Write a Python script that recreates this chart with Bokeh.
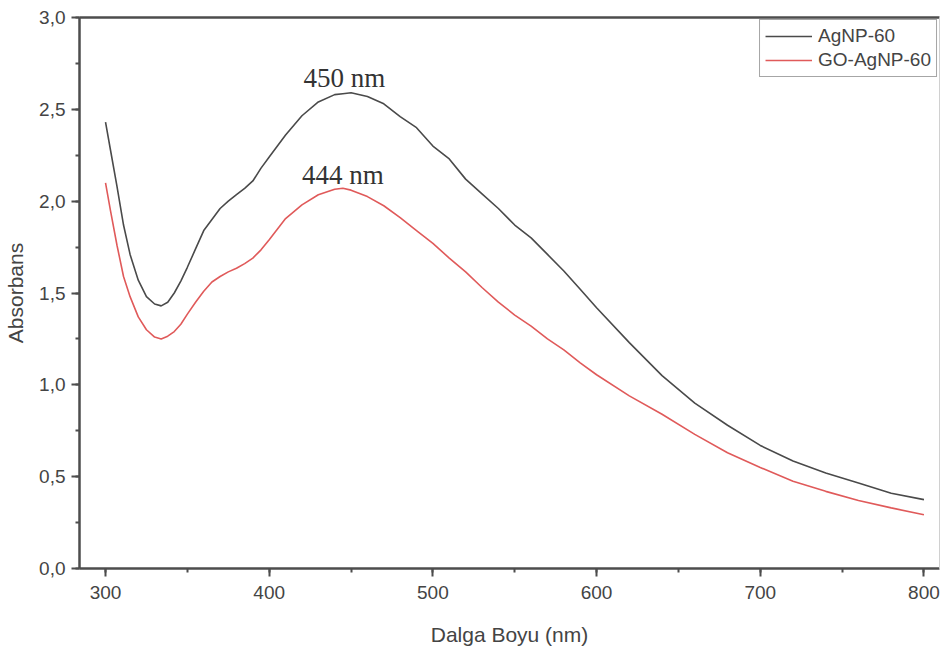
from bokeh.plotting import figure
from bokeh.models import (LinearAxis, SingleIntervalTicker, FixedTicker, Range1d,
                          CustomJSTickFormatter, Legend, LegendItem, ColumnDataSource)
from bokeh.core.properties import value
from bokeh.embed import file_html
from bokeh.resources import INLINE

# ---------------- data ----------------
wavelength = [300, 303, 307, 311, 315, 320, 325, 330, 334, 338, 342, 346, 350, 355,
              360, 365, 370, 375, 380, 385, 390, 395, 400, 410, 420, 430, 440, 445,
              450, 460, 470, 480, 490, 500, 510, 520, 530, 540, 550, 560, 570, 580,
              590, 600, 620, 640, 660, 680, 700, 720, 740, 760, 780, 800]

agnp_60 = [2.43, 2.28, 2.08, 1.87, 1.71, 1.57, 1.48, 1.44, 1.43, 1.45, 1.50, 1.565,
           1.64, 1.74, 1.84, 1.90, 1.96, 2.00, 2.035, 2.07, 2.11, 2.18, 2.24, 2.36,
           2.465, 2.54, 2.58, 2.585, 2.59, 2.57, 2.53, 2.46, 2.40, 2.30, 2.23, 2.12,
           2.04, 1.96, 1.87, 1.80, 1.71, 1.62, 1.52, 1.42, 1.23, 1.05, 0.90, 0.78,
           0.67, 0.585, 0.52, 0.465, 0.41, 0.375]

go_agnp_60 = [2.10, 1.95, 1.76, 1.59, 1.48, 1.37, 1.30, 1.26, 1.25, 1.265, 1.29, 1.33,
              1.385, 1.45, 1.51, 1.56, 1.59, 1.615, 1.635, 1.66, 1.69, 1.735, 1.79,
              1.905, 1.98, 2.035, 2.065, 2.07, 2.06, 2.025, 1.975, 1.91, 1.84, 1.77,
              1.69, 1.615, 1.53, 1.45, 1.38, 1.32, 1.25, 1.19, 1.12, 1.055, 0.94,
              0.84, 0.73, 0.63, 0.55, 0.475, 0.42, 0.37, 0.33, 0.293]

series_names = ["AgNP-60", "GO-AgNP-60"]
peak_labels = ["450 nm", "444 nm"]
peak_label_x = [421, 420]
peak_label_y = [2.67, 2.14]

# ---------------- figure ----------------
FONT = "Liberation Sans"
AX_COLOR = "#4d4d4d"
TXT_COLOR = "#444444"

p = figure(width=942, height=648, output_backend="svg", toolbar_location=None,
           x_range=Range1d(284.1, 809.5), y_range=Range1d(0, 3.0),
           min_border_left=79, min_border_right=3, min_border_top=17, min_border_bottom=78,
           x_axis_location=None, y_axis_location=None)
p.xgrid.visible = False
p.ygrid.visible = False
p.background_fill_color = "white"
p.border_fill_color = "white"
p.outline_line_color = None

fmt = CustomJSTickFormatter(code="return tick.toFixed(1).replace('.', ',');")

xaxis = LinearAxis(ticker=SingleIntervalTicker(interval=100, num_minor_ticks=2),
                   axis_label="Dalga Boyu (nm)")
yaxis = LinearAxis(ticker=SingleIntervalTicker(interval=0.5, num_minor_ticks=2),
                   formatter=fmt, axis_label="Absorbans")
for ax in (xaxis, yaxis):
    ax.axis_line_color = AX_COLOR
    ax.axis_line_width = 2.5
    ax.major_tick_line_color = AX_COLOR
    ax.major_tick_line_width = 2
    ax.minor_tick_line_color = AX_COLOR
    ax.minor_tick_line_width = 2
    ax.major_tick_in = 0
    ax.major_tick_out = 8
    ax.minor_tick_in = 0
    ax.minor_tick_out = 4
    ax.major_label_text_font = FONT
    ax.major_label_text_font_size = "19px"
    ax.major_label_text_color = TXT_COLOR
    ax.axis_label_text_font = FONT
    ax.axis_label_text_font_size = "21px"
    ax.axis_label_text_font_style = "normal"
    ax.axis_label_text_color = TXT_COLOR
xaxis.major_label_standoff = 9
xaxis.axis_label_standoff = 21
yaxis.major_label_standoff = 6
yaxis.axis_label_standoff = 9
p.add_layout(xaxis, "below")
p.add_layout(yaxis, "left")

top = LinearAxis(ticker=FixedTicker(ticks=[]), axis_line_color=AX_COLOR, axis_line_width=2.5,
                 major_tick_out=0, minor_tick_out=0, major_label_standoff=0,
                 major_label_text_font_size="0px")
p.add_layout(top, "above")
right = LinearAxis(ticker=FixedTicker(ticks=[]), axis_line_color="#d0d0d0", axis_line_width=1,
                   major_tick_out=0, minor_tick_out=0, major_label_standoff=0,
                   major_label_text_font_size="0px")
p.add_layout(right, "right")

src = ColumnDataSource(dict(x=wavelength, a=agnp_60, g=go_agnp_60))
r1 = p.line("x", "a", source=src, line_color="#4a4a4a", line_width=1.6)
r2 = p.line("x", "g", source=src, line_color="#e05a5a", line_width=1.6)

lsrc = ColumnDataSource(dict(x=peak_label_x, y=peak_label_y, t=peak_labels))
p.text("x", "y", text="t", source=lsrc, text_font=value("Liberation Serif"),
       text_font_size="27px", text_color="#333333", text_align="left",
       text_baseline="alphabetic")

legend = Legend(items=[LegendItem(label=series_names[0], renderers=[r1]),
                       LegendItem(label=series_names[1], renderers=[r2])],
                location="top_right", margin=2, padding=5, spacing=2,
                glyph_width=47, glyph_height=22, label_standoff=6,
                label_text_font=FONT, label_text_font_size="19px",
                label_text_color=TXT_COLOR, label_height=22,
                border_line_color=AX_COLOR, border_line_width=1.5,
                background_fill_color="white", background_fill_alpha=1.0)
p.add_layout(legend)

open("out.html", "w").write(file_html(p, INLINE))
